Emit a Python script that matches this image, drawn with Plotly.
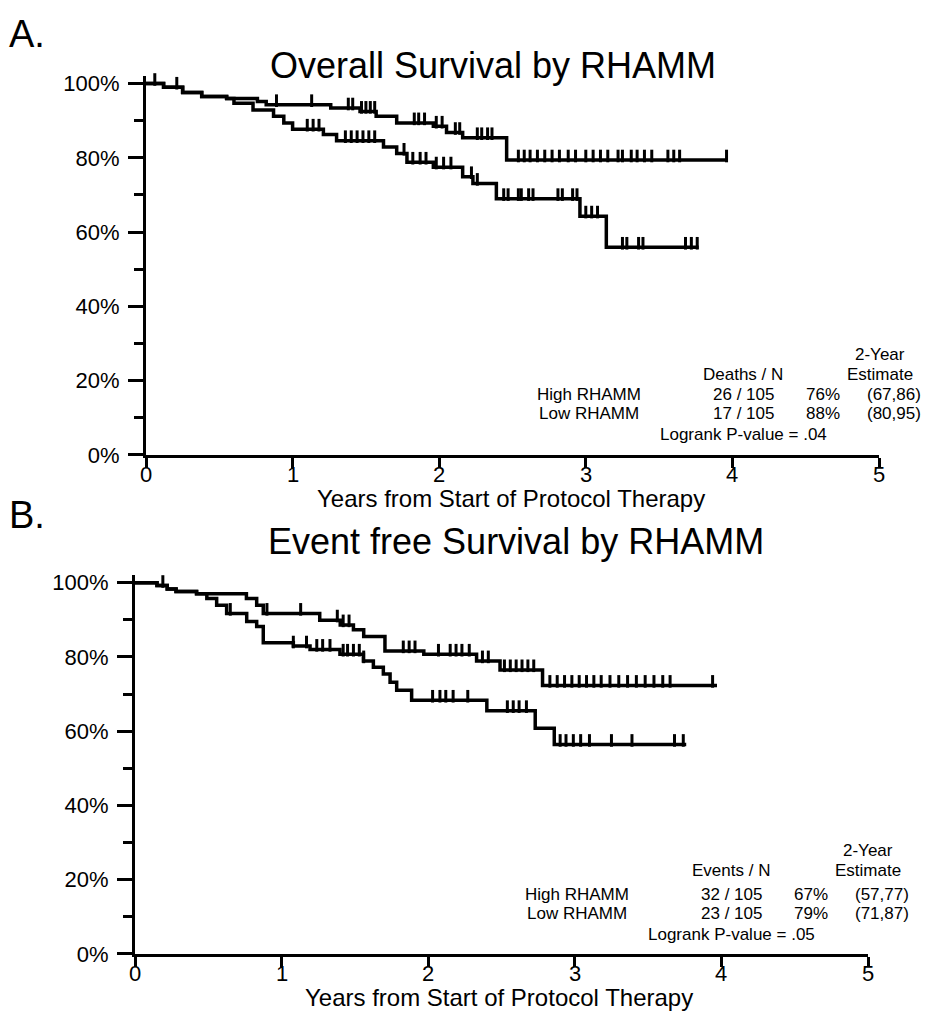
import plotly.graph_objects as go

# ---------------- data ----------------
# Overall survival (panel A): step times (years) and survival (%)
os_high_t = [0, 0.12, 0.25, 0.38, 0.55, 0.60, 0.73, 0.87, 0.94, 1.00, 1.21, 1.30, 1.62, 1.71, 1.78, 1.96, 2.16, 2.23, 2.39, 2.96, 3.14]
os_high_s = [100, 99.0, 97.6, 96.5, 96.0, 94.7, 92.9, 91.2, 89.4, 87.7, 86.3, 84.6, 82.9, 81.2, 78.8, 77.5, 74.9, 73.1, 69.0, 64.3, 55.9]
os_high_end = 3.77
os_high_cens = [1.10, 1.14, 1.18, 1.36, 1.40, 1.44, 1.48, 1.52, 1.56, 1.76, 1.82, 1.87, 1.91, 1.98, 2.03, 2.08,
                2.22, 2.26, 2.44, 2.47, 2.54, 2.56, 2.61, 2.64, 2.81, 2.84, 2.91, 2.94, 3.00, 3.04, 3.08,
                3.25, 3.28, 3.36, 3.39, 3.68, 3.72, 3.76]

os_low_t = [0, 0.12, 0.25, 0.38, 0.55, 0.76, 0.82, 1.26, 1.46, 1.57, 1.71, 1.96, 2.05, 2.16, 2.46]
os_low_s = [100, 99.0, 97.6, 96.5, 96.0, 95.2, 94.3, 93.4, 92.5, 91.2, 89.4, 88.5, 86.8, 85.4, 79.4]
os_low_end = 3.97
os_low_cens = [0.06, 0.21, 0.89, 1.13, 1.38, 1.41, 1.47, 1.50, 1.53, 1.56, 1.83, 1.86, 1.90, 1.98, 2.02,
               2.11, 2.14, 2.26, 2.29, 2.33, 2.36, 2.54, 2.58, 2.62, 2.67, 2.72, 2.77, 2.82, 2.88, 2.93,
               3.00, 3.05, 3.10, 3.15, 3.22, 3.25, 3.31, 3.35, 3.40, 3.45, 3.56, 3.60, 3.64, 3.96]

# Event free survival (panel B)
efs_high_t = [0, 0.15, 0.22, 0.28, 0.42, 0.49, 0.557, 0.625, 0.762, 0.83, 0.875, 1.08, 1.194, 1.398, 1.558,
              1.626, 1.694, 1.74, 1.785, 1.887, 2.40, 2.73, 2.86]
efs_high_s = [100, 99.2, 98.3, 97.6, 97.0, 95.7, 93.9, 91.7, 89.5, 88.2, 83.8, 82.9, 82.0, 80.7, 78.9,
              77.2, 75.4, 73.2, 71.0, 68.3, 65.5, 60.8, 56.4]
efs_high_end = 3.76
efs_high_cens = [0.65, 1.08, 1.17, 1.24, 1.28, 1.33, 1.42, 1.45, 1.49, 1.53, 1.56, 2.03, 2.08, 2.12, 2.17,
                 2.27, 2.54, 2.58, 2.62, 2.67, 2.90, 2.94, 2.99, 3.04, 3.10, 3.25, 3.39, 3.68, 3.74]

efs_low_t = [0, 0.15, 0.22, 0.28, 0.42, 0.76, 0.83, 0.875, 1.26, 1.40, 1.49, 1.56, 1.705, 1.97, 2.33, 2.49, 2.78]
efs_low_s = [100, 99.2, 98.3, 97.6, 97.0, 95.7, 93.9, 91.7, 89.9, 88.6, 87.3, 85.5, 81.6, 80.7, 78.9, 76.5, 72.3]
efs_low_end = 3.97
efs_low_cens = [0.19, 0.90, 1.13, 1.38, 1.42, 1.46, 1.83, 1.87, 1.91, 2.07, 2.15, 2.19, 2.23, 2.28, 2.37,
                2.41, 2.52, 2.56, 2.60, 2.64, 2.68, 2.72, 2.83, 2.88, 2.93, 2.98, 3.03, 3.08, 3.13, 3.18,
                3.24, 3.30, 3.36, 3.42, 3.48, 3.54, 3.60, 3.65, 3.94]

y_ticks = [0, 20, 40, 60, 80, 100]
y_tick_text = ["0%", "20%", "40%", "60%", "80%", "100%"]
x_ticks = [0, 1, 2, 3, 4, 5]
x_tick_text = ["0", "1", "2", "3", "4", "5"]

panel_a = dict(
    label="A.", title="Overall Survival by RHAMM", count_head="Deaths / N",
    rows=[("High RHAMM", "26 / 105", "76%", "(67,86)"),
          ("Low RHAMM", "17 / 105", "88%", "(80,95)")],
    pvalue="Logrank P-value = .04",
)
panel_b = dict(
    label="B.", title="Event free Survival by RHAMM", count_head="Events / N",
    rows=[("High RHAMM", "32 / 105", "67%", "(57,77)"),
          ("Low RHAMM", "23 / 105", "79%", "(71,87)")],
    pvalue="Logrank P-value = .05",
)

# ---------------- helpers ----------------
W, H = 948, 1020
FONT = "Liberation Sans, Arial, Helvetica, sans-serif"


def px(x):
    return x / W


def py(y):
    return 1 - y / H


def surv_at(times, surv, t):
    val = surv[0]
    for ti, si in zip(times, surv):
        if ti <= t:
            val = si
    return val


def add_curve(fig, times, surv, end, cens, xa, ya):
    xs = list(times) + [end]
    ys = list(surv) + [surv[-1]]
    fig.add_trace(go.Scatter(x=xs, y=ys, mode="lines", line=dict(color="black", width=3.5, shape="hv"),
                             xaxis=xa, yaxis=ya, showlegend=False, hoverinfo="skip"))
    # censoring ticks sit on top of the step line
    cy = [surv_at(times, surv, c) + 1.1 for c in cens]
    fig.add_trace(go.Scatter(x=cens, y=cy, mode="markers",
                             marker=dict(symbol="line-ns", size=9, line=dict(color="black", width=3)),
                             xaxis=xa, yaxis=ya, showlegend=False, hoverinfo="skip", cliponaxis=False))


fig = go.Figure()
add_curve(fig, os_high_t, os_high_s, os_high_end, os_high_cens, "x", "y")
add_curve(fig, os_low_t, os_low_s, os_low_end, os_low_cens, "x", "y")
add_curve(fig, efs_high_t, efs_high_s, efs_high_end, efs_high_cens, "x2", "y2")
add_curve(fig, efs_low_t, efs_low_s, efs_low_end, efs_low_cens, "x2", "y2")

tickfont = dict(family=FONT, size=22, color="black")


def xaxis_cfg(x0, x1, anchor):
    return dict(domain=[px(x0), px(x1)], range=[0, 5], anchor=anchor, tickvals=x_ticks,
                showticklabels=False,
                showline=True, linecolor="black", linewidth=3, ticks="outside", ticklen=10,
                tickwidth=3, tickcolor="black", showgrid=False, zeroline=False)


def yaxis_cfg(y0px, ytop_px, anchor):
    return dict(domain=[py(y0px), py(ytop_px)], range=[0, 102], anchor=anchor,
                tickvals=y_ticks, ticktext=y_tick_text, showline=True, linecolor="black",
                linewidth=3, ticks="outside", ticklen=15, tickwidth=3, tickcolor="black",
                ticklabelstandoff=4,
                minor=dict(dtick=10, tick0=0, ticks="outside", ticklen=9, tickwidth=3, tickcolor="black"),
                showgrid=False, zeroline=False, tickfont=tickfont)


# panel A: x 0..5 -> 146..879 px, y 0..100 -> 458..80 px; panel B likewise, shifted
fig.update_layout(
    xaxis=xaxis_cfg(146, 879, "y"),
    yaxis=yaxis_cfg(458, 458 - 3.78 * 102, "x"),
    xaxis2=xaxis_cfg(135, 868, "y2"),
    yaxis2=yaxis_cfg(966, 966 - 3.78 * 102, "x2"),
    width=W, height=H, margin=dict(l=0, r=0, t=0, b=0),
    paper_bgcolor="white", plot_bgcolor="white",
    font=dict(family=FONT, color="black"),
)


def text(x, y, s, size, anchor="center"):
    fig.add_annotation(x=px(x), y=py(y), xref="paper", yref="paper", text=s, showarrow=False,
                       xanchor=anchor, yanchor="middle", borderpad=0,
                       font=dict(family=FONT, size=size, color="black"))


def panel_text(p, xref, axis_y, dx, label_y, title_x, title_y, xtitle_x, rows_y):
    # x tick labels, tucked right under the tick marks
    for v, s in zip(x_ticks, x_tick_text):
        fig.add_annotation(x=v, xref=xref, y=py(axis_y + 20), yref="paper", text=s, showarrow=False,
                           xanchor="center", yanchor="middle", font=tickfont)
    text(8, label_y, p["label"], 38, "left")
    text(title_x, title_y, p["title"], 36)
    text(xtitle_x, axis_y + 44, "Years from Start of Protocol Therapy", 24)

    # summary table: 2-Year / header / High / Low / Logrank rows
    fs = 17
    y_year, y_head, y_hi, y_lo, y_p = [axis_y - d for d in rows_y]
    text(880 + dx, y_year, "2-Year", fs)
    text(743 + dx, y_head, p["count_head"], fs)
    text(880 + dx, y_head, "Estimate", fs)
    for yy, (name, cnt, est, ci) in zip([y_hi, y_lo], p["rows"]):
        text(589 + dx, yy, name, fs)
        text(743 + dx, yy, cnt, fs)
        text(823 + dx, yy, est, fs)
        text(894 + dx, yy, ci, fs)
    text(743 + dx, y_p, p["pvalue"], fs)


panel_text(panel_a, "x", 458, 0, 30, 493, 62, 511, [102, 82, 62, 42, 21])
panel_text(panel_b, "x2", 966, -12, 519, 516, 546, 499, [105, 85, 61, 41, 20])

fig.write_html("out.html")
